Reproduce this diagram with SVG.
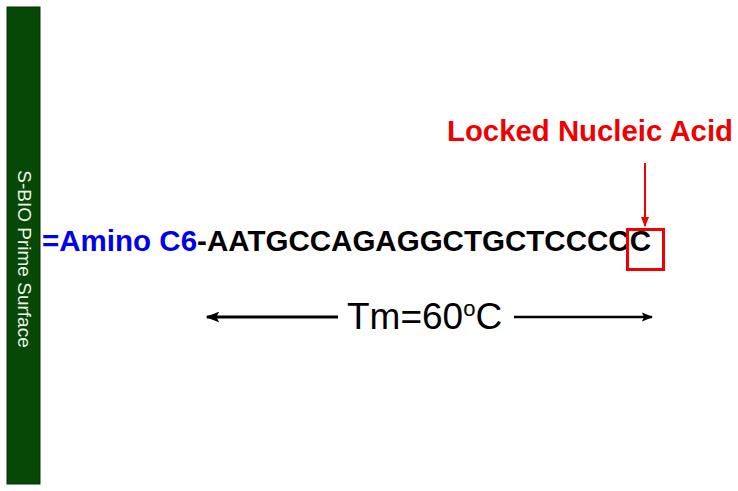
<svg xmlns="http://www.w3.org/2000/svg" width="738" height="491" viewBox="0 0 738 491">
<style>
.seq{font-family:"Liberation Sans",Arial,sans-serif;font-weight:bold;font-size:29px}
.tm{font-family:"Liberation Sans",Arial,sans-serif;font-size:37px;fill:#000}
.lbl{font-family:"Liberation Sans",Arial,sans-serif;font-size:19px;fill:#f0f5ea}
</style>
<defs>
<marker id="ah" viewBox="0 0 10 10" refX="9" refY="5" markerWidth="4.5" markerHeight="4.5" orient="auto" markerUnits="strokeWidth"><path d="M0,1 L10,5 L0,9 L2,5 z" fill="#000"/></marker>
<marker id="ahr" viewBox="0 0 10 10" refX="9" refY="5" markerWidth="5" markerHeight="5" orient="auto" markerUnits="strokeWidth"><path d="M0,1 L10,5 L0,9 z" fill="#f00000"/></marker>
</defs>
<rect width="738" height="491" fill="#fff"/>
<g id="surface">
<rect x="7" y="7" width="33" height="477" fill="#064806" stroke="#033003" stroke-width="1"/>
<text class="lbl" text-anchor="middle" transform="translate(17.5,259) rotate(90)">S-BIO Prime Surface</text>
</g>
<g id="sequence">
<text class="seq" x="42" y="251" textLength="609" lengthAdjust="spacingAndGlyphs"><tspan fill="#0000f0">=Amino C6</tspan><tspan fill="#000">-AATGCCAGAGGCTGCTCCCCC</tspan></text>
</g>
<g id="lna">
<text class="seq" x="447" y="141" fill="#f00000" textLength="286" lengthAdjust="spacingAndGlyphs">Locked Nucleic Acid</text>
<rect x="627.5" y="229.5" width="36" height="40" fill="none" stroke="#f00000" stroke-width="3"/>
</g>
<g id="tm">
<text class="tm" x="347" y="329">Tm=60<tspan font-size="22" dy="-13">o</tspan><tspan dy="13">C</tspan></text>
</g>
<g id="connectors">
<line x1="645" y1="163" x2="645" y2="226" stroke="#f00000" stroke-width="2" marker-end="url(#ahr)"/>
<line x1="338" y1="317" x2="207" y2="317" stroke="#000" stroke-width="3" marker-end="url(#ah)"/>
<line x1="514" y1="317" x2="652" y2="317" stroke="#000" stroke-width="2.5" marker-end="url(#ah)"/>
</g>
</svg>
